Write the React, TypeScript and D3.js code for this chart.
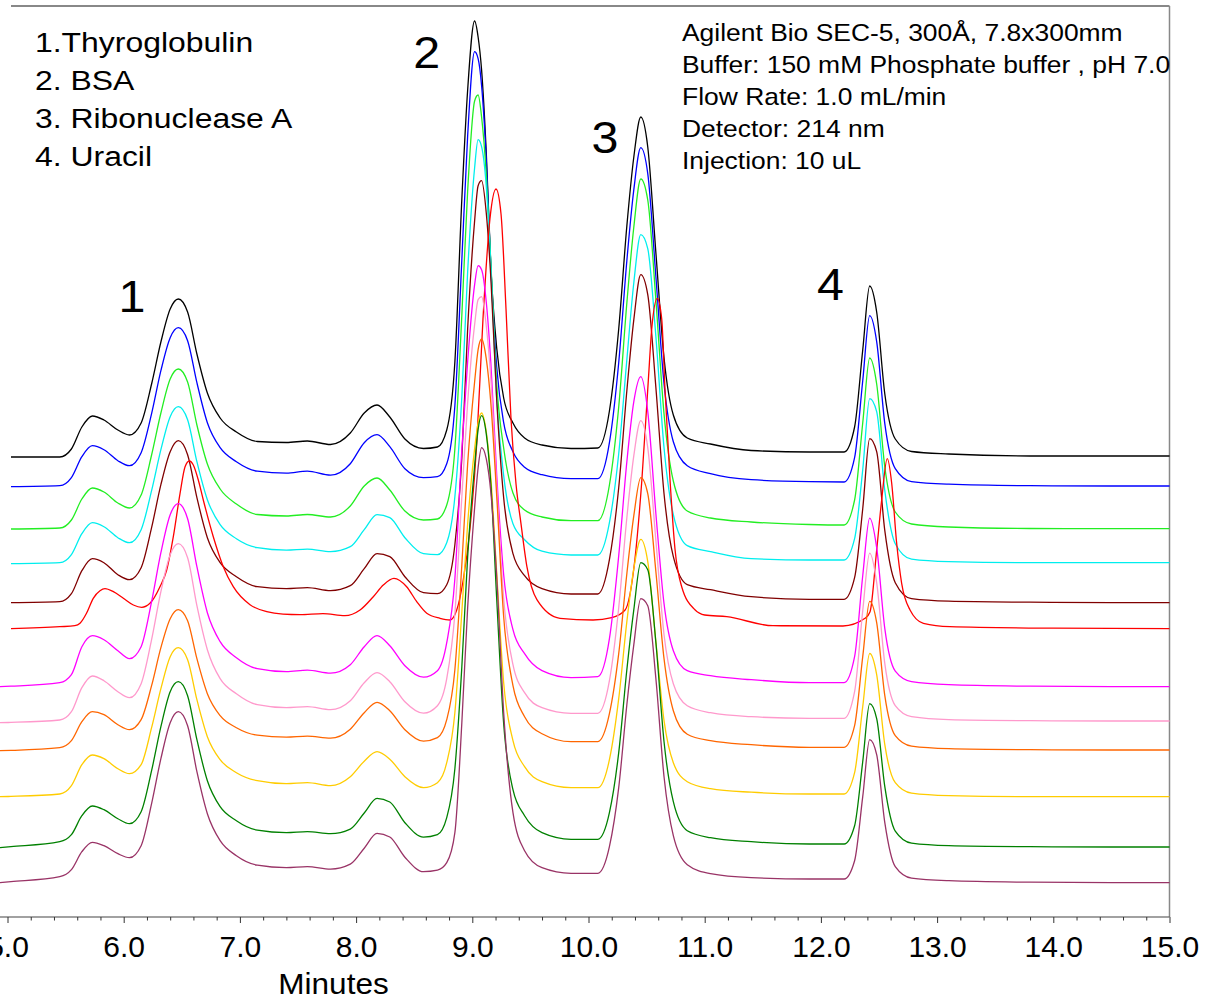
import React, { useEffect, useRef } from 'react';
import * as d3 from 'd3';

// Retention time grid (minutes) shared by all traces except the red one
const retentionTimes = [4.93, 5.03, 5.45, 5.55, 5.64, 5.73, 5.83, 5.95, 6.05, 6.15, 6.24, 6.32, 6.40, 6.47, 6.55, 6.63, 6.72, 6.83, 6.97, 7.15, 7.40, 7.58, 7.78, 7.95, 8.07, 8.18, 8.29, 8.42, 8.58, 8.70, 8.78, 8.85, 8.91, 8.96, 9.02, 9.05, 9.08, 9.12, 9.16, 9.21, 9.27, 9.35, 9.45, 9.60, 9.85, 10.08, 10.18, 10.26, 10.33, 10.39, 10.45, 10.51, 10.58, 10.65, 10.73, 10.85, 11.05, 11.40, 11.90, 12.20, 12.29, 12.36, 12.42, 12.48, 12.55, 12.64, 12.78, 13.10, 13.80, 14.50, 15.00];

// Detector signal (mAU) of each run, above its own baseline
const blackSignal = [null, 0, 0, 8, 30, 41, 37, 27, 22, 34, 73, 115, 148, 158, 145, 103, 64, 39, 25, 15.5, 14.5, 16, 12.5, 24, 44, 52, 40, 18, 8.5, 10, 27, 95, 258, 367, 436, 420, 387, 305, 189, 109, 59, 34, 19, 12, 8.5, 9, 46, 128, 231, 300, 340, 310, 204, 99, 42, 19, 13, 6.5, 5, 5, 30, 107, 171, 145, 63, 18, 5.5, 3, 1, 1, 1];
const blueSignal = [null, 0, 1, 9, 30, 41, 37, 26, 21, 34, 73, 116, 149, 159, 146, 104, 64, 39, 25, 15.5, 13.5, 15.5, 11.5, 23, 44, 52, 40, 18, 9, 10, 23, 81, 227, 351, 435, 428, 401, 328, 218, 120, 64, 35, 19.5, 12, 8, 8, 44, 124, 226, 297, 339, 313, 210, 103, 45, 21, 13, 7, 5, 4.7, 29, 106, 171, 145, 63, 18, 5, 2.5, 1, 0.7, 0.7];
const greenSignal = [null, 0, 1, 9, 30, 41, 37, 26, 21, 34, 74, 116, 150, 160, 147, 104, 65, 40, 25, 14.5, 13, 14.5, 12, 23, 43, 51, 39, 18, 9, 10, 24, 80, 214, 338, 428, 434, 412, 355, 265, 145, 81, 36, 19, 12, 8.3, 8.3, 44, 122, 226, 302, 350, 329, 229, 115, 48, 18, 11, 7, 4.5, 4, 29, 106, 171, 145, 62, 17, 5, 2, 0.5, 0.3, 0.3];
const cyanSignal = [null, 0, 1, 9, 30, 41, 37, 26, 21, 34, 73, 114, 147, 157, 144, 102, 64, 39, 25, 16, 13.5, 14.5, 12, 17, 34, 49, 46, 26, 10, 9, 21, 67, 167, 292, 396, 424, 417, 378, 298, 165, 88, 40, 24, 12.5, 8.7, 8.7, 41, 110, 204, 281, 329, 315, 227, 116, 49, 18, 12, 5, 3.7, 3.7, 25, 94, 165, 152, 73, 20, 4.5, 2, 1, 1, 1];
const darkRedSignal = [null, 0, 1, 9, 32, 44, 40, 28, 23, 35, 75, 118, 151, 162, 148, 105, 65, 40, 26, 16, 14, 15, 12, 17, 34, 49, 46, 26, 10, 9, 18, 58, 145, 274, 382, 417, 422, 390, 324, 203, 105, 49, 27, 14, 8.7, 8.7, 43, 115, 212, 283, 328, 308, 215, 109, 46, 18, 13, 6, 3.4, 3.4, 25, 94, 164, 151, 72, 20, 4, 1.5, 0.5, 0, 0];
const magentaSignal = [0, 0.5, 4, 12, 40, 51, 47, 36, 28, 40, 85, 134, 172, 183, 168, 120, 74, 45, 29, 18, 15, 16.5, 13.5, 22, 40, 51, 41, 21, 9.5, 16, 44, 108, 237, 325, 402, 421, 417, 385, 323, 212, 112, 57, 33, 16, 9, 10, 48, 131, 225, 285, 310, 275, 173, 83, 36, 16, 11, 7, 4, 4, 30, 111, 168.6, 139, 58, 15.5, 5, 2, 0.5, 0, 0];
const pinkSignal = [0, 0.3, 2.7, 11, 35, 46.7, 42, 31, 25, 39, 83, 131, 168, 179, 165, 117, 73, 44, 29, 18, 15, 16, 13, 22, 40, 50, 41, 21, 9.5, 17, 44, 109, 226, 320, 398, 423, 426, 397, 343, 237, 124, 58, 30, 15, 9.4, 9.4, 42, 115, 205, 267, 302, 275, 182, 88, 39, 17, 10, 6, 4.4, 4.4, 31, 112, 169.6, 140, 59, 17, 6, 3, 2, 1.7, 1.7];
const orangeSignal = [0, 0.3, 3, 10, 29, 39, 36, 26, 21, 31, 65, 103, 132, 141, 130, 92, 57, 35, 23, 15.5, 13.5, 14.5, 12.5, 21.5, 38, 48.4, 40, 21, 9.5, 13, 31, 81, 186, 287, 369, 401, 411.7, 392, 347, 255, 134, 65, 34, 17, 9, 9, 37, 97, 177, 235, 273, 257, 179, 92, 40, 16.5, 10, 6, 3.4, 3.4, 25, 94, 149.4, 128, 55, 15, 4.5, 2, 1, 0.7, 0.7];
const goldSignal = [0, 0.3, 2.7, 11, 32, 41.7, 38, 28, 23, 32, 69, 108, 140, 149, 137, 97, 60, 37, 24, 16, 13, 14, 11, 20, 35.5, 45, 37.5, 20, 9, 14, 34, 84, 185, 273, 348, 374, 383.7, 365, 318, 224, 114, 56, 30, 15, 9, 9, 37, 98, 175, 228, 257.3, 235, 155, 76, 34, 15, 8, 4.5, 2.7, 2.7, 24, 90, 143.2, 122, 52, 14, 3.5, 1, 0, 0, 0];
const darkGreenSignal = [0, 1, 6, 13, 32, 41.7, 38, 29, 24, 36, 77, 121, 156, 166, 152, 108, 67, 41, 27, 17.5, 15, 16, 14, 18.6, 34.7, 49.3, 45.7, 25, 10.5, 13, 30, 79, 181, 291, 382, 418, 432, 414, 363, 249, 124, 58, 32, 15, 8.4, 8.4, 35, 95, 178, 238, 285, 278, 205, 106, 46, 17, 10, 6, 3.7, 3.7, 22, 86, 144, 129, 61, 16.5, 4.5, 2, 1, 0.7, 0.7];
const mauveSignal = [0, 1, 6, 13, 31, 40.4, 37, 29, 25, 37, 79, 124, 160, 171, 157, 111, 69, 42, 27, 17.5, 15, 16, 13.5, 18.5, 34.5, 49.3, 45.7, 25.5, 11, 12.5, 20, 50, 160, 275, 375, 415, 435, 424, 390, 306, 170, 70, 32, 15, 9.4, 9.4, 36, 95, 178, 238, 284, 277, 204, 106, 47, 18, 9, 5, 3.7, 3.7, 22, 86, 143, 128, 60, 16, 4.5, 2, 0.5, 0, 0];

// The red run elutes later, so it has its own time points
const redTimes = [5.03, 5.45, 5.58, 5.624, 5.68, 5.738, 5.796, 5.839, 5.911, 5.997, 6.083, 6.155, 6.226, 6.312, 6.37, 6.427, 6.485, 6.528, 6.565, 6.599, 6.642, 6.685, 6.771, 6.857, 6.943, 7.087, 7.231, 7.371, 7.517, 7.715, 7.904, 8.034, 8.148, 8.234, 8.326, 8.435, 8.522, 8.608, 8.722, 8.808, 8.866, 8.922, 8.98, 9.038, 9.092, 9.152, 9.204, 9.247, 9.29, 9.333, 9.376, 9.419, 9.47, 9.556, 9.755, 10.039, 10.2, 10.315, 10.40, 10.458, 10.515, 10.544, 10.592, 10.63, 10.658, 10.701, 10.744, 10.802, 10.916, 11.0, 11.19, 11.588, 12.19, 12.38, 12.423, 12.48, 12.523, 12.571, 12.609, 12.652, 12.695, 12.767, 12.882, 13.11, 14.0, 15.0];
const redSignal = [0, 2, 3, 5.4, 15.4, 30.4, 38, 40, 37, 30.4, 23.7, 21.4, 25.4, 42, 58.7, 92, 135.4, 162, 167.7, 163.7, 148.7, 128.7, 92, 62, 42, 24, 17, 14.5, 14, 15, 13, 18.7, 32, 43.7, 50.4, 42, 27, 15.4, 10.4, 8.7, 18.7, 48.7, 100, 185, 310, 410, 439.7, 415, 320, 210, 145, 105, 62, 29, 10.4, 8.7, 11, 18.7, 70, 146.7, 248.7, 299.7, 330.4, 310, 240, 150, 80, 42, 18.9, 13.7, 12, 3, 2.7, 10.4, 17, 78.7, 128.7, 170, 145.7, 85.4, 45.4, 18.7, 5.4, 2, 0.5, 0];

// Stacking offsets (mAU) of the overlaid runs, top to bottom
const traceOffsets = [458, 428.3, 386, 351.3, 312.3, 286.3, 228.3, 192.3, 164.3, 118.3, 67.3, 32.3];
const traceColors = ['#000000', '#0000ff', '#22ee22', '#00eeee', '#800000', '#ff0000', '#ff00ff', '#ff99cc', '#ff6600', '#ffcc00', '#008000', '#993366'];

const majorTickTimes = [5, 6, 7, 8, 9, 10, 11, 12, 13, 14, 15];
const tickLabels = ['5.0', '6.0', '7.0', '8.0', '9.0', '10.0', '11.0', '12.0', '13.0', '14.0', '15.0'];
const legendLines = ['1.Thyroglobulin', '2. BSA', '3. Ribonuclease A', '4. Uracil'];
const methodLines = ['Agilent Bio SEC-5, 300Å, 7.8x300mm', 'Buffer: 150 mM Phosphate buffer , pH 7.0', 'Flow Rate: 1.0 mL/min', 'Detector: 214 nm', 'Injection: 10 uL'];
const peakNames = ['1', '2', '3', '4'];
const peakLabelTimes = [6.07, 8.607, 10.142, 12.083];

const FONT = "'Liberation Sans', Arial, Helvetica, sans-serif";

export default function App() {
  const axisRef = useRef<SVGGElement>(null);
  const W = 1215, H = 999;
  const x = d3.scaleLinear().domain([5, 15]).range([7.5, 1169.5]);
  const y = d3.scaleLinear().domain([0, 909]).range([915, 6]);
  const axisY = 917;

  const signals = [blackSignal, blueSignal, greenSignal, cyanSignal, darkRedSignal, null, magentaSignal, pinkSignal, orangeSignal, goldSignal, darkGreenSignal, mauveSignal];

  const line = d3.line<[number, number]>()
    .x(d => x(d[0]))
    .y(d => y(d[1]))
    .curve(d3.curveMonotoneX);

  const traces = traceOffsets.map((off, k) => {
    let pts: [number, number][];
    if (k === 5) {
      pts = redTimes.map((t, i) => [t, off + redSignal[i]] as [number, number]);
    } else {
      const s = signals[k] as (number | null)[];
      pts = [];
      retentionTimes.forEach((t, i) => {
        if (s[i] !== null) pts.push([t, off + (s[i] as number)]);
      });
    }
    return { color: traceColors[k], d: line(pts) || '' };
  });

  const minorTicks = d3.range(25, 76).filter(k => k % 5 !== 0).map(k => k / 5);

  useEffect(() => {
    if (!axisRef.current) return;
    const g = d3.select(axisRef.current);
    g.selectAll('*').remove();
    const minorAxis = d3.axisBottom(x).tickValues(minorTicks).tickSize(3.5).tickFormat(() => '');
    const majorAxis = d3.axisBottom(x).tickValues(majorTickTimes).tickSize(6).tickFormat((_, i) => tickLabels[i]);
    g.append('g').call(minorAxis);
    const gM = g.append('g').call(majorAxis);
    g.selectAll('.domain').remove();
    g.selectAll('.tick line').attr('stroke', '#333').attr('stroke-width', 1);
    gM.selectAll('.tick text')
      .attr('y', 40)
      .attr('dy', null)
      .attr('font-size', 30)
      .attr('font-family', FONT)
      .attr('fill', '#000');
  }, []);

  return (
    <svg width={W} height={H} style={{ position: 'absolute', left: 0, top: 0, display: 'block', background: '#fff' }}>
      {/* frame */}
      <line x1={11} x2={x(15)} y1={6} y2={6} stroke="#888" strokeWidth={2} />
      <line x1={x(15)} x2={x(15)} y1={6} y2={axisY} stroke="#888" strokeWidth={1.5} />
      {/* traces */}
      {traces.map((t, i) => (
        <path key={i} d={t.d} fill="none" stroke={t.color} strokeWidth={1.3} strokeLinejoin="round" />
      ))}
      {/* x axis */}
      <line x1={0} x2={x(15)} y1={axisY} y2={axisY} stroke="#444" strokeWidth={1.2} />
      <g ref={axisRef} transform={`translate(0,${axisY})`} />
      <text transform={`translate(333.5,994) scale(1.07,1)`} fontSize={29.5} fontFamily={FONT} textAnchor="middle" fill="#000">Minutes</text>
      {/* legend */}
      {legendLines.map((s, i) => (
        <text key={s} transform={`translate(35,${52 + i * 38}) scale(1.14,1)`} fontSize={28} fontFamily={FONT} fill="#000">{s}</text>
      ))}
      {/* method */}
      {methodLines.map((s, i) => (
        <text key={s} transform={`translate(682,${40.5 + i * 32}) scale(1.12,1)`} fontSize={23.6} fontFamily={FONT} fill="#000">{s}</text>
      ))}
      {/* peak numbers */}
      {peakNames.map((s, i) => (
        <text key={s} transform={`translate(${x(peakLabelTimes[i])},${[312, 68.3, 152.7, 300][i]}) scale(1.1,1)`} fontSize={44} fontFamily={FONT} textAnchor="middle" fill="#000">{s}</text>
      ))}
    </svg>
  );
}
